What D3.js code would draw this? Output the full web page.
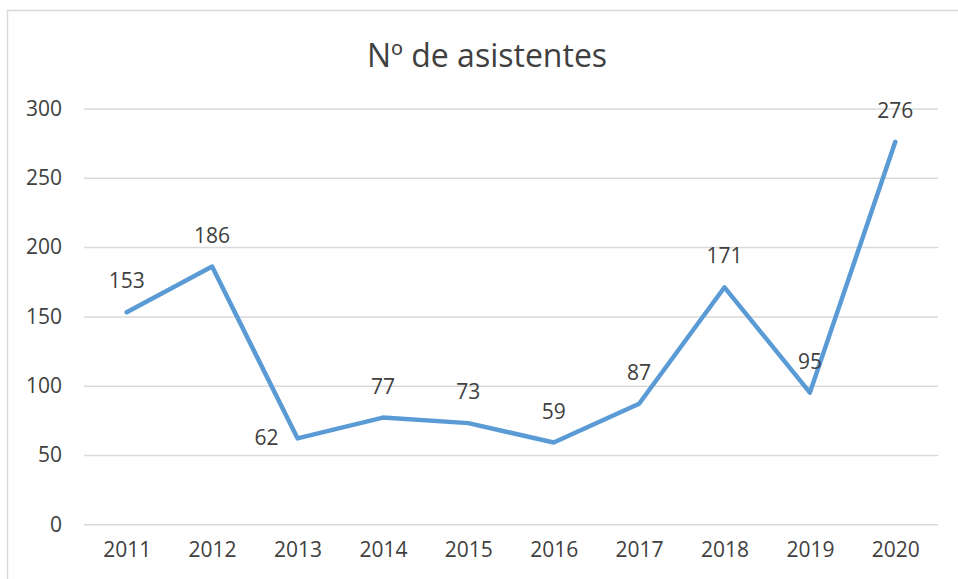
<!DOCTYPE html>
<html><head><meta charset="utf-8">
<script src="https://cdn.jsdelivr.net/npm/d3@7"></script>
<style>body{margin:0;background:#fff}svg{display:block;font-family:"Open Sans",sans-serif}</style>
</head><body><svg id="c" width="958" height="579"></svg>
<script>
const years = ["2011","2012","2013","2014","2015","2016","2017","2018","2019","2020"];
const values = [153,186,62,77,73,59,87,171,95,276];
const yTicks = [0,50,100,150,200,250,300];
const labelPos = ["above","above","left","above","above","above","above","above","above","above"];
const title = "Nº de asistentes";

const svg = d3.select("#c");
svg.append("rect").attr("x",7.5).attr("y",10.5).attr("width",960).attr("height",600)
  .attr("fill","#fff").attr("stroke","#d9d9d9").attr("stroke-width",1.5);

const x = d3.scalePoint().domain(years).range([84,938]).padding(0.5);
const y = d3.scaleLinear().domain([0,300]).range([524.3,108.5]);

svg.append("text").attr("x",487).attr("y",67).attr("text-anchor","middle")
  .attr("font-size",32).attr("fill","#404040").text(title);

const yAxis = svg.append("g").attr("transform","translate(84,0)")
  .call(d3.axisLeft(y).tickValues(yTicks).tickSize(-854).tickPadding(22));
yAxis.select(".domain").remove();
yAxis.selectAll(".tick line").attr("stroke","#d9d9d9").attr("stroke-width",1.5);
yAxis.selectAll(".tick text").attr("font-size",21).attr("fill","#404040").attr("font-family","Open Sans");

const xAxis = svg.append("g").attr("transform","translate(0,524.3)")
  .call(d3.axisBottom(x).tickSize(0).tickPadding(18));
xAxis.select(".domain").remove();
xAxis.selectAll(".tick text").attr("font-size",21).attr("fill","#404040").attr("font-family","Open Sans");

const line = d3.line().x((d,i)=>x(years[i])).y(d=>y(d));
svg.append("path").datum(values).attr("d",line).attr("fill","none")
  .attr("stroke","#5B9BD5").attr("stroke-width",4.5).attr("stroke-linejoin","round").attr("stroke-linecap","round");

svg.selectAll(".lbl").data(values).enter().append("text")
  .attr("x",(d,i)=> labelPos[i]==="left" ? x(years[i])-19 : x(years[i]))
  .attr("y",(d,i)=> labelPos[i]==="left" ? y(d)+7 : y(d)-24)
  .attr("text-anchor",(d,i)=> labelPos[i]==="left" ? "end" : "middle")
  .attr("font-size",21).attr("fill","#404040").text(d=>d);
</script></body></html>
